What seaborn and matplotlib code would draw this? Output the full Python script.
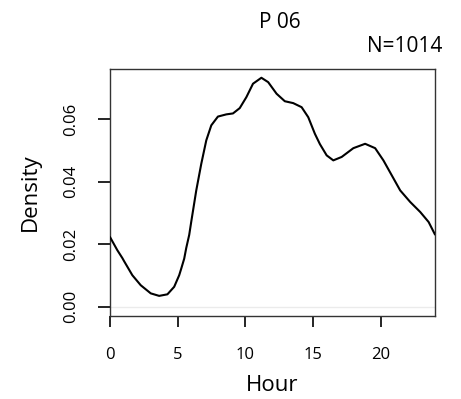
import matplotlib
matplotlib.use("Agg")
import matplotlib.pyplot as plt
import seaborn as sns
import pandas as pd

hours = [0.0, 0.54, 0.91, 1.04, 1.65, 2.27, 3.01, 3.63, 4.24, 4.74, 5.11,
         5.26, 5.48, 5.63, 5.85, 6.0, 6.37, 6.74, 7.11, 7.48, 7.97, 8.59,
         9.08, 9.58, 10.07, 10.56, 11.18, 11.68, 12.3, 12.91, 13.53, 14.15,
         14.64, 15.13, 15.5, 16.0, 16.49, 17.11, 17.97, 18.84, 19.58, 20.19,
         20.81, 21.43, 22.17, 22.91, 23.53, 24.0]
density = [0.0223, 0.0181, 0.0156, 0.0146, 0.0101, 0.0069, 0.0043, 0.0035,
           0.0040, 0.0064, 0.0101, 0.0122, 0.0154, 0.0188, 0.0230, 0.0272,
           0.0372, 0.0457, 0.0532, 0.0580, 0.0608, 0.0615, 0.0618, 0.0635,
           0.0670, 0.0713, 0.0732, 0.0718, 0.0681, 0.0657, 0.0651, 0.0638,
           0.0606, 0.0553, 0.0520, 0.0484, 0.0468, 0.0479, 0.0507, 0.0521,
           0.0507, 0.0468, 0.0420, 0.0372, 0.0335, 0.0303, 0.0271, 0.0231]
x_ticks = [0, 5, 10, 15, 20]
y_ticks = [0.00, 0.02, 0.04, 0.06]
y_tick_labels = ["0.00", "0.02", "0.04", "0.06"]
title = "P 06"
n_label = "N=1014"

sns.set_style("white")
plt.rcParams["font.family"] = ["Open Sans", "DejaVu Sans"]
plt.rcParams["text.color"] = "black"
plt.rcParams["axes.labelcolor"] = "black"
plt.rcParams["xtick.color"] = "black"
plt.rcParams["ytick.color"] = "black"

df = pd.DataFrame({"Hour": hours, "Density": density})

fig = plt.figure(figsize=(4.61, 3.99), dpi=100)
ax = fig.add_axes([110 / 461, 83 / 399, 325 / 461, 247 / 399])

ax.axhline(0, color="#ebebeb", lw=1.0, zorder=1)
sns.lineplot(data=df, x="Hour", y="Density", ax=ax, color="black", lw=1.5,
             zorder=3, solid_joinstyle="round", solid_capstyle="round")

ax.set_xlim(0, 24)
ax.set_ylim(-0.00293, 0.0760)
ax.set_xticks(x_ticks)
ax.set_xticklabels([str(t) for t in x_ticks])
ax.set_yticks(y_ticks)
ax.set_yticklabels(y_tick_labels, rotation=90, va="center")

ax.tick_params(axis="x", length=8, width=1.2, pad=14, labelsize=12,
               bottom=True, direction="out")
ax.tick_params(axis="y", length=9, width=1.2, pad=13, labelsize=12,
               left=True, direction="out")

for s in ax.spines.values():
    s.set_color("#333333")
    s.set_linewidth(1.0)

ax.set_xlabel("Hour", fontsize=16, labelpad=9)
ax.set_ylabel("Density", fontsize=16, labelpad=16)

fig.text(280 / 461, 1 - 22 / 399, title, ha="center", va="center", fontsize=15)
fig.text(442 / 461, 1 - 46 / 399, n_label, ha="right", va="center", fontsize=15)

fig.savefig("out.png", dpi=100, facecolor="white")
